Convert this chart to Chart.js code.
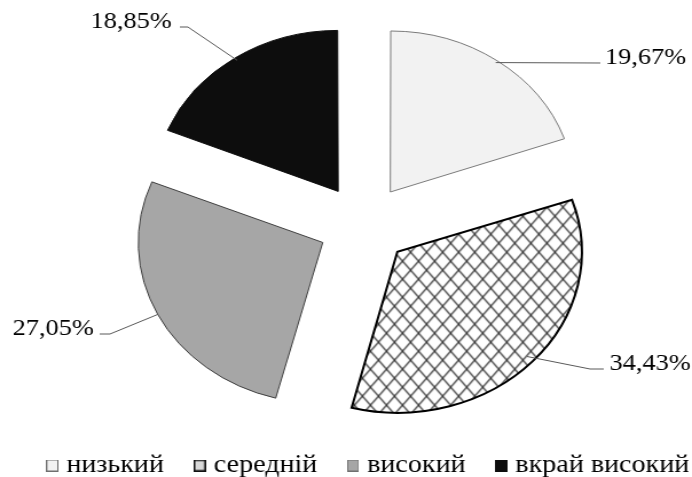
<!DOCTYPE html>
<html lang="uk">
<head>
<meta charset="utf-8">
<title>Розподіл за рівнями</title>
<script src="https://cdn.jsdelivr.net/npm/chart.js@4.4.1/dist/chart.umd.min.js"></script>
<style>
  html, body { margin: 0; padding: 0; background: #fff; overflow: hidden; }
  /* the source picture is stretched horizontally, so the canvas is too */
  #wrap { width: 604px; height: 477px; transform: scaleX(1.1457); transform-origin: 0 0; }
</style>
</head>
<body>
<div id="wrap"><canvas id="chart" width="604" height="477"></canvas></div>
<script>
// =====================================================
// DATA
// =====================================================
const categories = ["низький", "середній", "високий", "вкрай високий"];
const shares = [19.67, 34.43, 27.05, 18.85];
const shareLabels = ["19,67%", "34,43%", "27,05%", "18,85%"];

// =====================================================
// STYLE
// =====================================================
const FONT = "'Liberation Serif', 'Times New Roman', serif";
const OFFSET = 160;            // Chart.js shifts an arc by offset / 4 → 40px
const SHIFT = OFFSET / 4;

const canvas = document.getElementById("chart");
const ctx = canvas.getContext("2d");

// crosshatch fill for the "середній" slice
function makeCrosshatch() {
  const tile = document.createElement("canvas");
  tile.width = 14;
  tile.height = 18;
  const c = tile.getContext("2d");
  c.fillStyle = "#ffffff";
  c.fillRect(0, 0, 14, 18);
  c.strokeStyle = "#333333";
  c.lineWidth = 1.25;
  for (const dx of [-14, 0, 14]) {
    c.beginPath(); c.moveTo(dx, 0); c.lineTo(dx + 14, 18); c.stroke();
    c.beginPath(); c.moveTo(dx + 14, 0); c.lineTo(dx, 18); c.stroke();
  }
  return ctx.createPattern(tile, "repeat");
}

const sliceFill = ["#f2f2f2", makeCrosshatch(), "#a6a6a6", "#0d0d0d"];
const sliceBorder = ["#7a7a7a", "#000000", "#3f3f3f", "#0d0d0d"];
const sliceBorderWidth = [1, 2, 1, 1];

// small legend swatches
function makeSwatch(fill, stroke, lw) {
  const s = document.createElement("canvas");
  s.width = 11;
  s.height = 12;
  const c = s.getContext("2d");
  c.fillStyle = fill;
  c.fillRect(0, 0, 11, 12);
  c.strokeStyle = stroke;
  c.lineWidth = lw;
  c.strokeRect(lw / 2, lw / 2, 11 - lw, 12 - lw);
  return s;
}
const swatches = [
  makeSwatch("#f2f2f2", "#6f6f6f", 1),
  makeSwatch("#d9d9d9", "#111111", 1.5),
  makeSwatch("#a6a6a6", "#6f6f6f", 1),
  makeSwatch("#0d0d0d", "#0d0d0d", 1),
];

// leader line bends, relative to the pie centre
const leaders = [
  { pts: [[206.5, -161.6]], side: "left", gap: 4 },
  { pts: [[197.5, 144.4], [209.5, 144.4]], side: "left", gap: 5 },
  { pts: [[-221.5, 109.4], [-230.5, 109.4]], side: "right", gap: 5 },
  { pts: [[-153.5, -197.6], [-160.5, -197.6]], side: "right", gap: 7 },
];

// legend row layout
const LEGEND_FONT = 24.5;
const LEGEND_Y = 465.5;        // middle of the row
const LEGEND_NUDGE = 19;       // row sits a bit right of the canvas middle
const SWATCH_W = 10.5;
const SWATCH_GAP = 7;
const ITEM_GAP = 26;

// =====================================================
// PLUGINS
// =====================================================
// Chart.js grows exploded arcs a little; undo that so all slices keep one radius
const keepRadius = {
  id: "keepRadius",
  afterUpdate(chart) {
    chart.getDatasetMeta(0).data.forEach((arc) => {
      const circ = arc.endAngle - arc.startAngle;
      arc.outerRadius -= SHIFT * (1 - Math.sin(Math.min(Math.PI, circ)));
    });
  },
};

// percentage labels with leader lines
const leaderLabels = {
  id: "leaderLabels",
  afterDatasetsDraw(chart) {
    const { ctx, chartArea } = chart;
    const cx = (chartArea.left + chartArea.right) / 2;
    const cy = (chartArea.top + chartArea.bottom) / 2;
    chart.getDatasetMeta(0).data.forEach((arc, i) => {
      const mid = (arc.startAngle + arc.endAngle) / 2;
      const r = arc.outerRadius + SHIFT;
      const ax = arc.x + Math.cos(mid) * r;
      const ay = arc.y + Math.sin(mid) * r;
      const lead = leaders[i];
      ctx.save();
      ctx.strokeStyle = "#595959";
      ctx.lineWidth = 1;
      ctx.beginPath();
      ctx.moveTo(ax, ay);
      lead.pts.forEach((p) => ctx.lineTo(cx + p[0], cy + p[1]));
      ctx.stroke();
      const end = lead.pts[lead.pts.length - 1];
      ctx.font = `23px ${FONT}`;
      ctx.fillStyle = "#000000";
      ctx.textAlign = lead.side;
      ctx.textBaseline = "alphabetic";
      const tx = cx + end[0] + (lead.side === "left" ? lead.gap : -lead.gap);
      ctx.fillText(shareLabels[i], tx, cy + end[1] + 1);
      ctx.restore();
    });
  },
};

// one-line legend under the pie (built-in legend wraps at this width)
const legendRow = {
  id: "legendRow",
  afterDraw(chart) {
    const { ctx } = chart;
    ctx.save();
    ctx.font = `${LEGEND_FONT}px ${FONT}`;
    ctx.fillStyle = "#000000";
    ctx.textAlign = "left";
    ctx.textBaseline = "middle";
    const widths = categories.map((t) => ctx.measureText(t).width);
    const total = widths.reduce((sum, w) => sum + SWATCH_W + SWATCH_GAP + w, 0)
      + ITEM_GAP * (categories.length - 1);
    let x = chart.width / 2 + LEGEND_NUDGE - total / 2;
    categories.forEach((text, i) => {
      ctx.drawImage(swatches[i], x, LEGEND_Y - 6, SWATCH_W, 12);
      ctx.fillText(text, x + SWATCH_W + SWATCH_GAP, LEGEND_Y);
      x += SWATCH_W + SWATCH_GAP + widths[i] + ITEM_GAP;
    });
    ctx.restore();
  },
};

// =====================================================
// CHART
// =====================================================
new Chart(ctx, {
  type: "pie",
  data: {
    labels: categories,
    datasets: [
      {
        data: shares,
        backgroundColor: sliceFill,
        borderColor: sliceBorder,
        borderWidth: sliceBorderWidth,
        borderJoinStyle: "miter",
        offset: OFFSET,
        radius: 161,
      },
    ],
  },
  options: {
    responsive: false,
    animation: false,
    events: [],
    layout: { padding: { left: 31, right: 0, top: 0, bottom: 27.8 } },
    plugins: {
      tooltip: { enabled: false },
      legend: { display: false },
    },
  },
  plugins: [keepRadius, leaderLabels, legendRow],
});
</script>
</body>
</html>
